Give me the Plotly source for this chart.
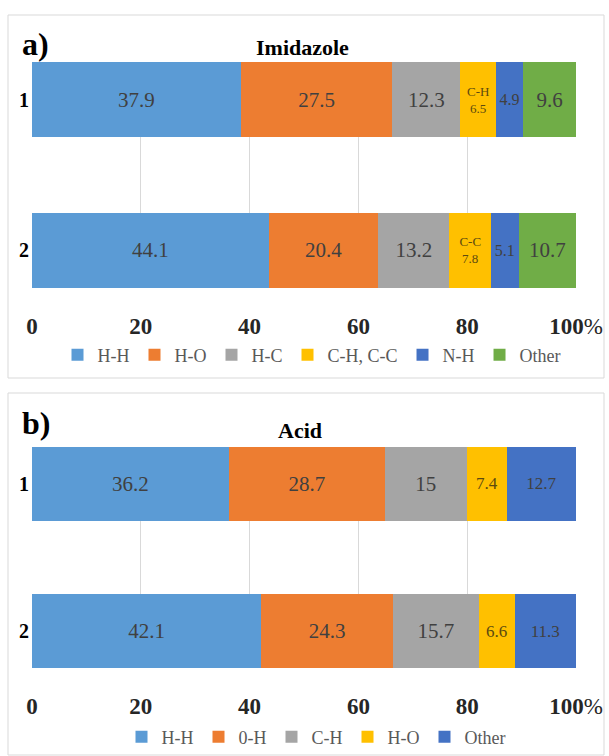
import plotly.graph_objects as go

W, H = 609, 756

# ---- data ----
rows = ["1", "2"]

a_names = ["H-H", "H-O", "H-C", "C-H, C-C", "N-H", "Other"]
a_colors = ["#5B9BD5", "#ED7D31", "#A5A5A5", "#FFC000", "#4472C4", "#70AD47"]
a_values = [
    [37.9, 44.1],
    [27.5, 20.4],
    [12.3, 13.2],
    [6.5, 7.8],
    [4.9, 5.1],
    [9.6, 10.7],
]
a_prefix = ["", "", "", ["C-H", "C-C"], "", ""]

b_names = ["H-H", "0-H", "C-H", "H-O", "Other"]
b_colors = ["#5B9BD5", "#ED7D31", "#A5A5A5", "#FFC000", "#4472C4"]
b_values = [
    [36.2, 42.1],
    [28.7, 24.3],
    [15, 15.7],
    [7.4, 6.6],
    [12.7, 11.3],
]

tick_vals = [0, 20, 40, 60, 80, 100]
tick_text = ["0", "20", "40", "60", "80", "100<span style='font-weight:normal'>%</span>"]


def px_x(p):
    return p / W


def px_y(p):
    return 1 - p / H


SERIF = "Liberation Serif, Times New Roman, DejaVu Serif, serif"
fig = go.Figure()

for i, (n, c, v) in enumerate(zip(a_names, a_colors, a_values)):
    col = "#404040"
    if a_prefix[i]:
        txt = [f"{a_prefix[i][k]}<br>{v[k]}" for k in range(len(v))]
        size = 13
        col = "#5C4A10"
    else:
        txt = [str(x) for x in v]
        size = 16 if n == "N-H" else 21
    fig.add_trace(go.Bar(
        y=rows, x=v, name=n, orientation="h", marker=dict(color=c, line=dict(width=0)),
        width=0.5, text=txt, textposition="inside", insidetextanchor="middle",
        textfont=dict(family=SERIF, size=size, color=col),
        xaxis="x", yaxis="y", legend="legend", hoverinfo="skip",
    ))

for i, (n, c, v) in enumerate(zip(b_names, b_colors, b_values)):
    txt = [str(x) for x in v]
    size = 17 if n in ("H-O", "Other") else 21
    col = "#5C4A10" if n == "H-O" else "#404040"
    fig.add_trace(go.Bar(
        y=rows, x=v, name=n, orientation="h", marker=dict(color=c, line=dict(width=0)),
        width=0.5, text=txt, textposition="inside", insidetextanchor="middle",
        textfont=dict(family=SERIF, size=size, color=col),
        xaxis="x2", yaxis="y2", legend="legend2", hoverinfo="skip",
    ))

xcommon = dict(
    range=[0, 100], tickvals=tick_vals, ticktext=tick_text, showgrid=True,
    gridcolor="#D9D9D9", gridwidth=1, zeroline=False, showline=False,
    tickfont=dict(family=SERIF, size=23, color="#262626", weight="bold"),
    ticks="", ticklabelstandoff=22, automargin=False,
)
ycommon = dict(
    range=[1.25, -0.25], showgrid=False, zeroline=False, showline=False, ticks="",
    tickfont=dict(family=SERIF, size=20, color="#000000", weight="bold"),
    ticklabelstandoff=2, automargin=False,
)

fig.update_layout(
    width=W, height=H, margin=dict(l=0, r=0, t=0, b=0, autoexpand=False),
    paper_bgcolor="white", plot_bgcolor="white",
    barmode="stack", barnorm="percent",
    xaxis=dict(domain=[px_x(32), px_x(576)], anchor="y", **xcommon),
    yaxis=dict(domain=[px_y(288), px_y(62)], anchor="x", **ycommon),
    xaxis2=dict(domain=[px_x(32), px_x(576)], anchor="y2", **xcommon),
    yaxis2=dict(domain=[px_y(668), px_y(447)], anchor="x2", **ycommon),
    legend=dict(orientation="h", x=px_x(312), xanchor="center", y=px_y(355), yanchor="middle",
                font=dict(family=SERIF, size=18, color="#595959"), traceorder="normal",
                itemwidth=30, bgcolor="rgba(0,0,0,0)"),
    legend2=dict(orientation="h", x=px_x(316), xanchor="center", y=px_y(737), yanchor="middle",
                 font=dict(family=SERIF, size=18, color="#595959"), traceorder="normal",
                 itemwidth=30, bgcolor="rgba(0,0,0,0)"),
    showlegend=True,
    shapes=[
        dict(type="rect", xref="paper", yref="paper", x0=px_x(8), x1=px_x(604),
             y0=px_y(378), y1=px_y(15), line=dict(color="#D9D9D9", width=1)),
        dict(type="rect", xref="paper", yref="paper", x0=px_x(8), x1=px_x(604),
             y0=px_y(755), y1=px_y(393), line=dict(color="#D9D9D9", width=1)),
    ],
    annotations=[
        dict(text="<b>a)</b>", x=px_x(20), y=px_y(44), xref="paper", yref="paper",
             xanchor="left", yanchor="middle", showarrow=False,
             font=dict(family=SERIF, size=32, color="#000000")),
        dict(text="<b>Imidazole</b>", x=px_x(302), y=px_y(47), xref="paper", yref="paper",
             xanchor="center", yanchor="middle", showarrow=False,
             font=dict(family=SERIF, size=22, color="#000000")),
        dict(text="<b>b)</b>", x=px_x(20), y=px_y(423), xref="paper", yref="paper",
             xanchor="left", yanchor="middle", showarrow=False,
             font=dict(family=SERIF, size=32, color="#000000")),
        dict(text="<b>Acid</b>", x=px_x(300), y=px_y(430), xref="paper", yref="paper",
             xanchor="center", yanchor="middle", showarrow=False,
             font=dict(family=SERIF, size=22, color="#000000")),
    ],
)

fig.write_html("out.html", config={"displayModeBar": False},
               post_script="document.body.style.margin='0';")
